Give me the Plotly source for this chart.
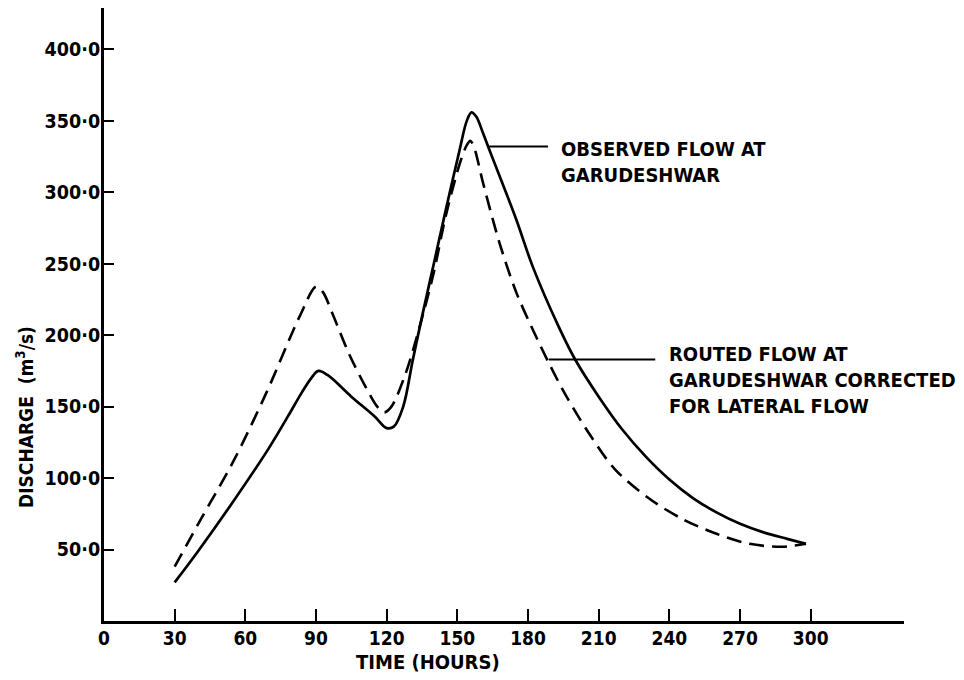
import plotly.graph_objects as go

# ---- data ----
obs_time = [30, 40, 55, 70, 78, 84, 88, 91, 95, 105, 115, 120, 123, 127, 131, 135, 140, 145, 151, 154, 156,
            158, 161, 164, 168, 175, 182, 193, 200, 210, 220, 230, 240, 250, 260, 270, 280, 290, 298]
obs_flow = [27, 49, 84, 121, 143, 160, 170, 175, 172, 157, 143, 135, 136, 150, 182, 213, 250, 287, 330, 350, 356,
            353, 341, 328, 311, 281, 248, 206, 183, 157, 134, 115, 99, 86, 76, 68, 62, 57.5, 54]

rout_time = [30, 40, 55, 69, 83, 90, 93, 97, 104, 111, 116, 119, 122, 128, 134, 140, 145, 151, 154,
             155.5, 157, 161, 168, 175, 182, 189, 196, 206, 217, 232, 246, 260, 274, 288, 298]
rout_flow = [38, 68, 112, 160, 213, 234, 230, 215, 187, 164, 150, 146, 150, 173, 206, 244, 283, 320, 333,
             336, 332, 306, 264, 230, 204, 180, 158, 131, 106, 85, 71, 61, 54, 52, 54]

x_ticks = [0, 30, 60, 90, 120, 150, 180, 210, 240, 270, 300]
x_tick_labels = ["0", "30", "60", "90", "120", "150", "180", "210", "240", "270", "300"]
y_ticks = [50, 100, 150, 200, 250, 300, 350, 400]
y_tick_labels = ["50·0", "100·0", "150·0", "200·0", "250·0", "300·0", "350·0", "400·0"]

obs_label = "OBSERVED FLOW AT<br>GARUDESHWAR"
rout_label = "ROUTED FLOW AT<br>GARUDESHWAR CORRECTED<br>FOR LATERAL FLOW"
x_title = "TIME (HOURS)"
y_title = "DISCHARGE  (m<sup>3</sup>/s)"

FONT = "DejaVu Sans Condensed, DejaVu Sans, sans-serif"

L, R, T, B = 104, 60, 8, 59
W, H = 964, 680
w_plot = W - L - R
h_plot = H - T - B

fig = go.Figure()
fig.add_trace(go.Scatter(x=obs_time, y=obs_flow, mode="lines",
                         line=dict(color="black", width=2.7, shape="spline", smoothing=1.0),
                         showlegend=False, hoverinfo="skip"))
fig.add_trace(go.Scatter(x=rout_time, y=rout_flow, mode="lines",
                         line=dict(color="black", width=2.6, dash="15px,8px", shape="spline", smoothing=0.9),
                         showlegend=False, hoverinfo="skip"))

# leader lines
fig.add_shape(type="line", xref="x", yref="y", x0=163.5, x1=188.5, y0=332, y1=332,
              line=dict(color="black", width=2))
fig.add_shape(type="line", xref="x", yref="y", x0=188.8, x1=234, y0=183, y1=183,
              line=dict(color="black", width=2))

fig.add_annotation(x=193, y=321, xref="x", yref="y", text=obs_label, showarrow=False,
                   xanchor="left", yanchor="middle", align="left",
                   font=dict(family=FONT, size=20, color="black", weight="bold"))
fig.add_annotation(x=239, y=169, xref="x", yref="y", text=rout_label, showarrow=False,
                   xanchor="left", yanchor="middle", align="left",
                   font=dict(family=FONT, size=20, color="black", weight="bold"))

# axis titles placed as annotations
fig.add_annotation(x=(428 - L) / w_plot, y=(H - B - 662) / h_plot, xref="paper", yref="paper",
                   text=x_title, showarrow=False, xanchor="center", yanchor="middle",
                   font=dict(family=FONT, size=20, color="black", weight="bold"))
fig.add_annotation(x=(25 - L) / w_plot, y=(H - B - 510) / h_plot, xref="paper", yref="paper",
                   text=y_title, showarrow=False, textangle=-90, xanchor="center", yanchor="bottom",
                   font=dict(family=FONT, size=19, color="black", weight="bold"))

fig.update_layout(
    width=W, height=H,
    margin=dict(l=L, r=R, t=T, b=B),
    paper_bgcolor="white", plot_bgcolor="white",
    xaxis=dict(range=[0, 339.6], showgrid=False, zeroline=False,
               showline=True, linecolor="black", linewidth=3,
               ticks="inside", ticklen=12, tickwidth=2, tickcolor="black",
               tickvals=x_ticks, ticktext=x_tick_labels, ticklabelstandoff=-2,
               tickfont=dict(family=FONT, size=19, color="black", weight="bold")),
    yaxis=dict(range=[0, 429], showgrid=False, zeroline=False,
               showline=True, linecolor="black", linewidth=3,
               ticks="inside", ticklen=10, tickwidth=2, tickcolor="black",
               tickvals=y_ticks, ticktext=y_tick_labels, ticklabelstandoff=-3,
               tickfont=dict(family=FONT, size=19.5, color="black", weight="bold")),
)

fig.write_html("out.html")
